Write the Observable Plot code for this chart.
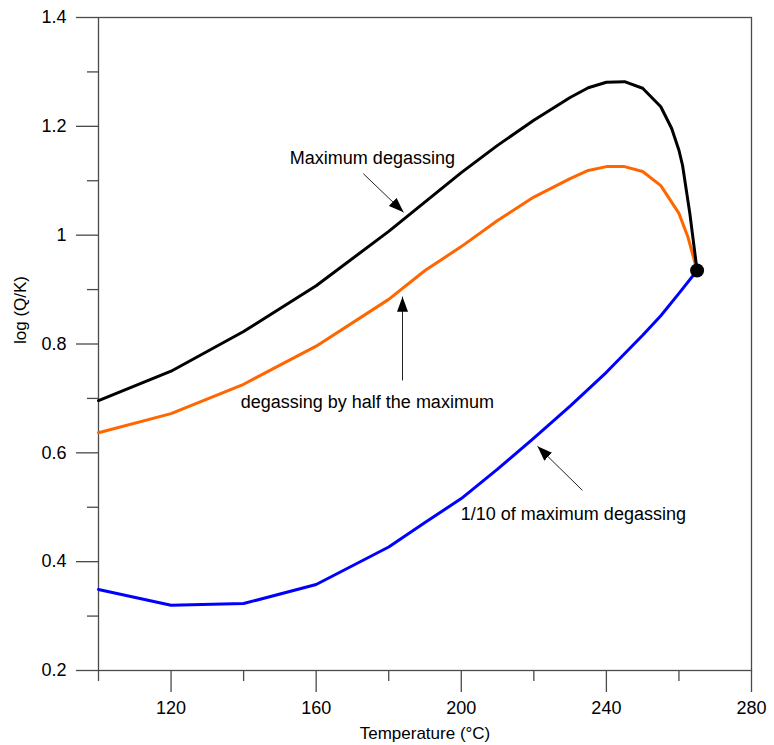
<!DOCTYPE html>
<html>
<head>
<meta charset="utf-8">
<script src="https://cdn.jsdelivr.net/npm/d3@7"></script>
<script src="https://cdn.jsdelivr.net/npm/@observablehq/plot@0.6"></script>
<style>
  html, body { margin: 0; padding: 0; background: #fff; }
  #chart { width: 774px; height: 745px; }
</style>
</head>
<body>
<div id="chart"></div>
<script>
// Temperature (°C) and log(Q/K) for each degassing scenario
const maxT =   [100, 120, 140, 160, 180, 200, 210, 220, 230, 235, 240, 245, 250, 255, 258, 260, 261, 263, 265];
const maxLog = [0.696, 0.750, 0.823, 0.907, 1.007, 1.115, 1.165, 1.211, 1.253, 1.271, 1.281, 1.282, 1.270, 1.236, 1.196, 1.156, 1.128, 1.040, 0.935];

const halfT =   [100, 120, 140, 160, 180, 190, 200, 210, 220, 230, 235, 240, 245, 250, 255, 260, 262.5, 265];
const halfLog = [0.637, 0.672, 0.726, 0.796, 0.882, 0.935, 0.979, 1.027, 1.070, 1.104, 1.119, 1.126, 1.126, 1.117, 1.091, 1.040, 0.996, 0.935];

const tenthT =   [100, 120, 140, 160, 180, 190, 200, 210, 220, 230, 240, 250, 255, 260, 265];
const tenthLog = [0.349, 0.320, 0.323, 0.358, 0.427, 0.472, 0.516, 0.570, 0.627, 0.686, 0.748, 0.816, 0.852, 0.893, 0.935];

// common end point
const endPoint = [{t: 265, v: 0.935}];

// tick values
const xMajorTicks = [120, 160, 200, 240, 280];
const xMinorTicks = [100, 140, 180, 220, 260];
const yMajorTicks = [0.2, 0.4, 0.6, 0.8, 1, 1.2, 1.4];
const yMinorTicks = [0.3, 0.5, 0.7, 0.9, 1.1, 1.3];

// axis titles
const xTitle = ["Temperature (°C)"];
const yTitle = ["log (Q/K)"];

// annotations (data units)
const labelText = ["Maximum degassing", "degassing by half the maximum", "1/10 of maximum degassing"];
const labelT =    [175.5, 174.1, 230.9];
const labelV =    [1.141, 0.693, 0.487];
const arrowT1 = [173.0, 183.8, 233.4];
const arrowV1 = [1.113, 0.733, 0.531];
const arrowT2 = [184.1, 183.8, 221.0];
const arrowV2 = [1.042, 0.887, 0.612];

const toRows = (xs, ys) => xs.map((t, i) => ({t, v: ys[i]}));
const labels = labelText.map((s, i) => ({s, t: labelT[i], v: labelV[i]}));
const arrows = arrowT1.map((t, i) => ({t1: t, v1: arrowV1[i], t2: arrowT2[i], v2: arrowV2[i]}));

function filledArrow(color, context) {
  const ns = "http://www.w3.org/2000/svg";
  const doc = (context && context.document) || document;
  const m = doc.createElementNS(ns, "marker");
  m.setAttribute("viewBox", "-15 -6 16 12");
  m.setAttribute("markerWidth", "16");
  m.setAttribute("markerHeight", "12");
  m.setAttribute("markerUnits", "userSpaceOnUse");
  m.setAttribute("orient", "auto");
  m.setAttribute("refX", "0");
  m.setAttribute("refY", "0");
  const p = doc.createElementNS(ns, "path");
  p.setAttribute("d", "M-15,-5.5L0,0L-15,5.5Z");
  p.setAttribute("fill", "black");
  p.setAttribute("stroke", "none");
  m.appendChild(p);
  return m;
}

const font = "'Liberation Sans', Arial, sans-serif";
const axisColor = "#4a4a4a";

const chart = Plot.plot({
  width: 774,
  height: 745,
  marginLeft: 98,
  marginRight: 23,
  marginTop: 17,
  marginBottom: 75,
  style: {fontFamily: font, fontSize: "18px", background: "#fff", color: "#000"},
  x: {domain: [100, 280]},
  y: {domain: [0.2, 1.4]},
  marks: [
    Plot.frame({stroke: axisColor, strokeWidth: 1.3}),
    Plot.axisX({ticks: xMajorTicks, tickSize: 22, tickPadding: 9, stroke: axisColor, strokeWidth: 1.3,
      fontSize: 18, tickFormat: d => String(d), label: null}),
    Plot.axisX({ticks: xMinorTicks, tickSize: 11, stroke: axisColor, strokeWidth: 1.3, text: null, label: null}),
    Plot.axisY({ticks: yMajorTicks, tickSize: 22, tickPadding: 10, stroke: axisColor, strokeWidth: 1.3,
      fontSize: 18, tickFormat: d => String(d), label: null}),
    Plot.axisY({ticks: yMinorTicks, tickSize: 11, stroke: axisColor, strokeWidth: 1.3, text: null, label: null}),
    Plot.text(xTitle, {frameAnchor: "bottom", lineAnchor: "middle", dy: 63, fontSize: 17, fill: "#000"}),
    Plot.text(yTitle, {frameAnchor: "left", lineAnchor: "middle", dx: -78, rotate: -90, fontSize: 17, fill: "#000"}),
    Plot.line(toRows(tenthT, tenthLog), {x: "t", y: "v", stroke: "#0000ff", strokeWidth: 3, strokeLinejoin: "round"}),
    Plot.line(toRows(halfT, halfLog), {x: "t", y: "v", stroke: "#ff6600", strokeWidth: 3, strokeLinejoin: "round"}),
    Plot.line(toRows(maxT, maxLog), {x: "t", y: "v", stroke: "#000", strokeWidth: 3, strokeLinejoin: "round"}),
    Plot.dot(endPoint, {x: "t", y: "v", r: 7, fill: "#000"}),
    Plot.link(arrows, {x1: "t1", y1: "v1", x2: "t2", y2: "v2", stroke: "#222", strokeWidth: 1, markerEnd: filledArrow}),
    Plot.text(labels, {x: "t", y: "v", text: "s", fontSize: 18, fill: "#000", fontFamily: font})
  ]
});
document.getElementById("chart").appendChild(chart);
</script>
</body>
</html>
